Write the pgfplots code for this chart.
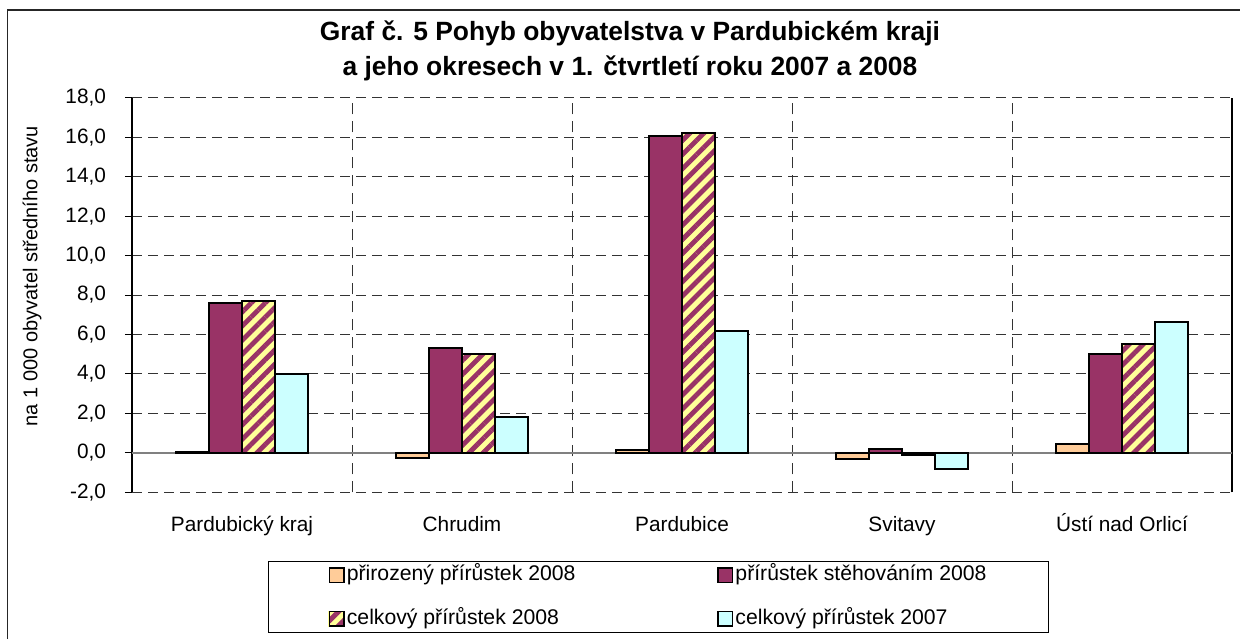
\documentclass[border=0pt]{standalone}
\usepackage{fontspec}
\setmainfont{Liberation Sans}
\usepackage{pgfplots}
\pgfplotsset{compat=1.18}
\usetikzlibrary{patterns.meta}
\definecolor{cOrange}{HTML}{FFCC99}
\definecolor{cPurple}{HTML}{993366}
\definecolor{cYellow}{HTML}{FFFF99}
\definecolor{cCyan}{HTML}{CCFFFF}
\pgfplotsset{hatchlegend/.style={legend image code/.code={\fill[cYellow] (0pt,-3.6pt) rectangle (7.2pt,3.6pt);
    \draw[##1, line width=0.8pt] (0pt,-3.6pt) rectangle (7.2pt,3.6pt);}}}

\begin{document}
\begin{tikzpicture}
\useasboundingbox (0,0) rectangle (620pt,319.5pt);
\draw[line width=0.65pt, black!85] (3.65pt,0) -- (3.65pt,314.5pt) -- (620pt,314.5pt);
\node[align=center, font=\bfseries\fontsize{13.2}{17.5}\selectfont] at (315pt,294.25pt)
  {Graf č. 5 Pohyb obyvatelstva v Pardubickém kraji\\a jeho okresech v 1. čtvrtletí roku 2007 a 2008};
\begin{axis}[
  at={(66pt,73.35pt)}, anchor=south west,
  scale only axis, width=550pt, height=197.3pt,
  ybar=0pt, bar width=16.5pt,
  xmin=-0.5, xmax=4.5, ymin=-2, ymax=18,
  xtick={0,1,2,3,4},
  xticklabels={Pardubický kraj, Chrudim, Pardubice, Svitavy, Ústí nad Orlicí},
  ytick={-2,0,2,4,6,8,10,12,14,16,18},
  minor xtick={0.5,1.5,2.5,3.5},
  xminorgrids=true, ymajorgrids=true,
  major grid style={black!80, line width=0.5pt, dash pattern=on 5pt off 3pt},
  minor grid style={black!80, line width=0.5pt, dash pattern=on 5.5pt off 3.5pt},
  separate axis lines,
  x axis line style={draw=none},
  y axis line style={black, line width=0.65pt},
  ytick pos=left, tick align=outside,
  major tick length=3.5pt, minor tick length=0pt,
  xtick style={draw=none},
  ytick style={black, line width=0.5pt},
  tick label style={font=\fontsize{10.4}{12}\selectfont},
  yticklabel style={xshift=-6pt},
  xticklabel style={yshift=-5pt, text height=7.6pt, text depth=2.2pt},
  /pgf/number format/.cd, fixed, fixed zerofill, precision=1, use comma, assume math mode=true,
  /pgfplots/.cd,
  extra y ticks={0}, extra y tick labels={},
  extra y tick style={grid=major, major grid style={solid, gray, line width=0.7pt}},
  every axis y label/.style={at={(axis description cs:0,0.548)}, xshift=-50pt, rotate=90, anchor=center},
  ylabel={na 1 000 obyvatel středního stavu},
  label style={font=\fontsize{10}{12}\selectfont},
  legend columns=2,
  legend cell align=left,
  legend style={at={(axis description cs:0.4786,-0.2655)}, anchor=center, draw=black, line width=0.6pt,
    font=\fontsize{10.6}{12}\selectfont, inner xsep=30pt, inner ysep=2pt, row sep=11.8pt,
    /tikz/every even column/.append style={column sep=70pt},
    nodes={inner xsep=1pt, inner ysep=0pt, text height=7.6pt, text depth=2.4pt}},
  legend image code/.code={\draw[#1, line width=0.8pt] (0pt,-3.6pt) rectangle (7.2pt,3.6pt);},
]
\addplot[bar shift=-24.75pt, fill=cOrange, draw=black, line width=1pt] coordinates {(0,0.03) (1,-0.25) (2,0.12) (3,-0.32) (4,0.47)};
\addplot[bar shift=-8.25pt, fill=cPurple, draw=black, line width=1pt] coordinates {(0,7.62) (1,5.31) (2,16.08) (3,0.19) (4,5.03)};
\addplot[forget plot, bar shift=8.25pt, fill=cYellow, draw=black, line width=1pt] coordinates {(0,7.72) (1,5.01) (2,16.21) (3,-0.12) (4,5.53)};
\addplot[bar shift=8.25pt, draw=black, line width=1pt,
  pattern={Lines[angle=45,distance=5pt,line width=2.4pt]}, pattern color=cPurple, hatchlegend]
  coordinates {(0,7.72) (1,5.01) (2,16.21) (3,-0.12) (4,5.53)};
\addplot[bar shift=24.75pt, fill=cCyan, draw=black, line width=1pt] coordinates {(0,3.98) (1,1.83) (2,6.18) (3,-0.84) (4,6.63)};
\legend{přirozený přírůstek 2008, přírůstek stěhováním 2008, celkový přírůstek 2008, celkový přírůstek 2007}
\end{axis}
\end{tikzpicture}
\end{document}
